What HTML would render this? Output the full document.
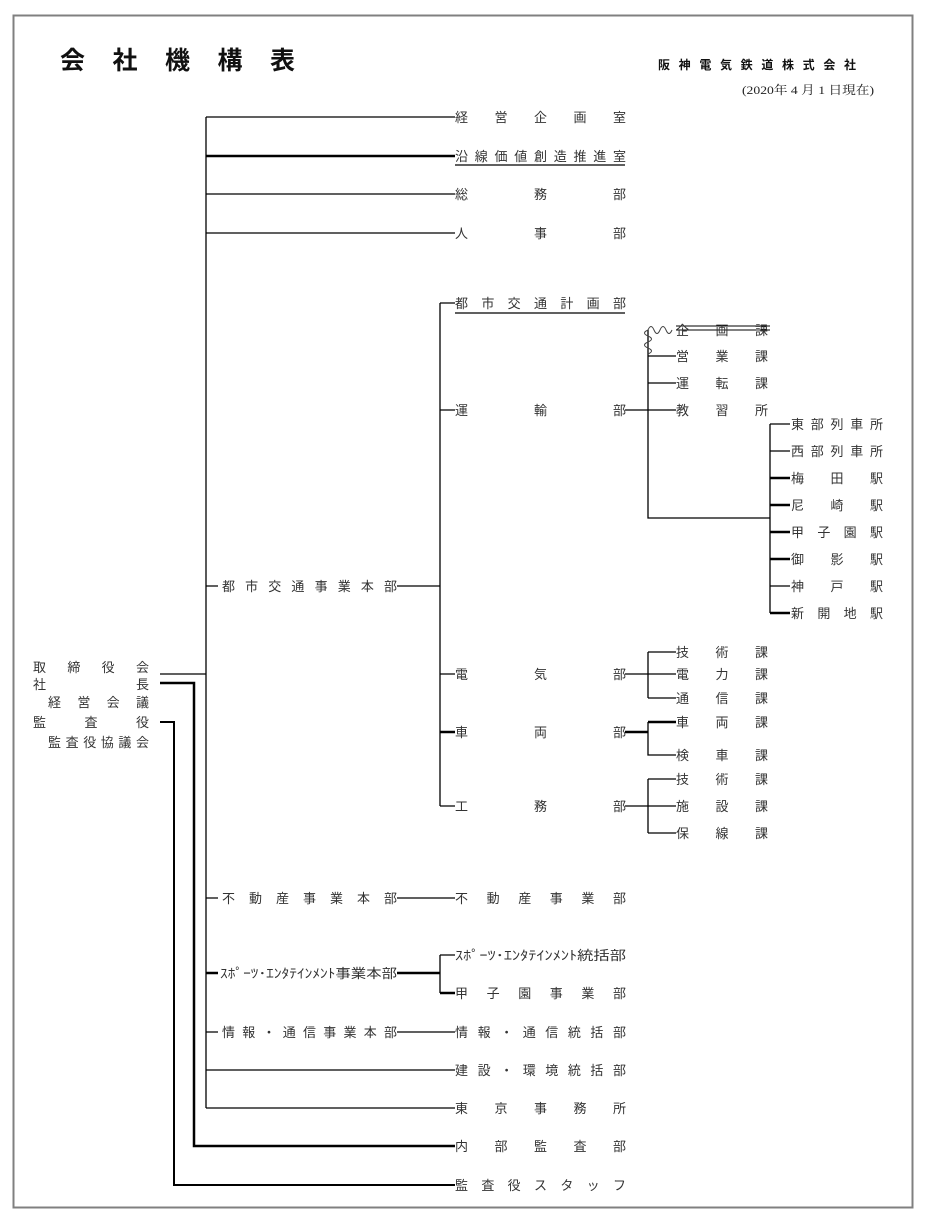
<!DOCTYPE html>
<html><head><meta charset="utf-8"><style>
html,body{margin:0;padding:0;background:#fff;}
svg{display:block;}
text{font-family:"Liberation Sans","Noto Sans CJK JP",sans-serif;fill:#333;font-size:13px;}
</style></head><body>
<svg width="928" height="1224" viewBox="0 0 928 1224" xmlns="http://www.w3.org/2000/svg">
<rect x="13.5" y="15.5" width="899" height="1192" fill="none" stroke="#808080" stroke-width="2"/>
<text x="60" y="69" textLength="235" lengthAdjust="spacing" style="font-size:25px;fill:#111;font-weight:bold">会社機構表</text>
<text x="658" y="69" textLength="198" lengthAdjust="spacing" style="font-size:12px;fill:#111;font-weight:bold">阪神電気鉄道株式会社</text>
<text x="742" y="94" textLength="132" lengthAdjust="spacingAndGlyphs" style="font-size:12px;fill:#222;font-family:'Liberation Serif','Noto Serif CJK SC',serif">(2020年 4 月 1 日現在)</text>

<g stroke="#000" stroke-width="1.3" fill="none">
<!-- main trunk -->
<path d="M206 117V1108"/>
<path d="M206 117H455M206 194H455M206 233H455M206 1070H455M206 1108H455"/>
<path d="M206 156H455" stroke-width="2.5"/>
<path d="M455 165H625M455 313H625"/>
<path d="M160 674H206"/>
<path d="M160 683H194V1146H455" stroke-width="2.5"/>
<path d="M160 722H174V1185H455" stroke-width="2"/>
<path d="M206 586H218M397 586H440M206 898H218M397 898H455M206 1032H218M397 1032H455"/>
<path d="M206 973H218M397 973H440" stroke-width="2.5"/>
<path d="M440 955V993M440 955H455"/>
<path d="M440 993H455" stroke-width="2.5"/>
<!-- 都市交通 -->
<path d="M440 303V806M440 303H455M440 410H455M440 674H455M440 806H455"/>
<path d="M440 732H455" stroke-width="2.5"/>
<!-- 運輸 -->
<path d="M625 410H676M648 330V518H770M648 356H676M648 383H676"/>
<path d="M676 326H770M676 330H770" stroke-width="1"/>
<path d="M770 424V613M770 424H790M770 451H790M770 586H790"/>
<path d="M770 478H790M770 505H790M770 532H790M770 559H790M770 613H790" stroke-width="2.5"/>
<!-- 電気 -->
<path d="M625 674H676M648 652V698M648 652H676M648 698H676"/>
<!-- 車両 -->
<path d="M625 732H648M648 722H676" stroke-width="2.5"/>
<path d="M648 722V755H676"/>
<!-- 工務 -->
<path d="M625 806H676M648 779V833M648 779H676M648 833H676"/>
</g>
<path d="M648 330q3-7 6 0t6 0 6 0 6 0M648 330q-7 3 0 6t0 6 0 6 0 6" stroke="#444" stroke-width="1" fill="none"/>

<g>
<text x="455" y="122" textLength="171" lengthAdjust="spacing">経営企画室</text>
<text x="455" y="161" textLength="171" lengthAdjust="spacing">沿線価値創造推進室</text>
<text x="455" y="199" textLength="171" lengthAdjust="spacing">総務部</text>
<text x="455" y="238" textLength="171" lengthAdjust="spacing">人事部</text>
<text x="455" y="308" textLength="171" lengthAdjust="spacing">都市交通計画部</text>
<text x="455" y="415" textLength="171" lengthAdjust="spacing">運輸部</text>
<text x="455" y="679" textLength="171" lengthAdjust="spacing">電気部</text>
<text x="455" y="737" textLength="171" lengthAdjust="spacing">車両部</text>
<text x="455" y="811" textLength="171" lengthAdjust="spacing">工務部</text>
<text x="455" y="903" textLength="171" lengthAdjust="spacing">不動産事業部</text>
<text x="455" y="960" textLength="171" lengthAdjust="spacingAndGlyphs">ｽﾎﾟｰﾂ･ｴﾝﾀﾃｲﾝﾒﾝﾄ統括部</text>
<text x="455" y="998" textLength="171" lengthAdjust="spacing">甲子園事業部</text>
<text x="455" y="1037" textLength="171" lengthAdjust="spacing">情報・通信統括部</text>
<text x="455" y="1075" textLength="171" lengthAdjust="spacing">建設・環境統括部</text>
<text x="455" y="1113" textLength="171" lengthAdjust="spacing">東京事務所</text>
<text x="455" y="1151" textLength="171" lengthAdjust="spacing">内部監査部</text>
<text x="455" y="1190" textLength="171" lengthAdjust="spacing">監査役スタッフ</text>

<text x="222" y="591" textLength="175" lengthAdjust="spacing">都市交通事業本部</text>
<text x="222" y="903" textLength="175" lengthAdjust="spacing">不動産事業本部</text>
<text x="220" y="978" textLength="177" lengthAdjust="spacingAndGlyphs">ｽﾎﾟｰﾂ･ｴﾝﾀﾃｲﾝﾒﾝﾄ事業本部</text>
<text x="222" y="1037" textLength="175" lengthAdjust="spacing">情報・通信事業本部</text>

<text x="676" y="335" textLength="92" lengthAdjust="spacing">企画課</text>
<text x="676" y="361" textLength="92" lengthAdjust="spacing">営業課</text>
<text x="676" y="388" textLength="92" lengthAdjust="spacing">運転課</text>
<text x="676" y="415" textLength="92" lengthAdjust="spacing">教習所</text>
<text x="676" y="657" textLength="92" lengthAdjust="spacing">技術課</text>
<text x="676" y="679" textLength="92" lengthAdjust="spacing">電力課</text>
<text x="676" y="703" textLength="92" lengthAdjust="spacing">通信課</text>
<text x="676" y="727" textLength="92" lengthAdjust="spacing">車両課</text>
<text x="676" y="760" textLength="92" lengthAdjust="spacing">検車課</text>
<text x="676" y="784" textLength="92" lengthAdjust="spacing">技術課</text>
<text x="676" y="811" textLength="92" lengthAdjust="spacing">施設課</text>
<text x="676" y="838" textLength="92" lengthAdjust="spacing">保線課</text>

<text x="791" y="429" textLength="92" lengthAdjust="spacing">東部列車所</text>
<text x="791" y="456" textLength="92" lengthAdjust="spacing">西部列車所</text>
<text x="791" y="483" textLength="92" lengthAdjust="spacing">梅田駅</text>
<text x="791" y="510" textLength="92" lengthAdjust="spacing">尼崎駅</text>
<text x="791" y="537" textLength="92" lengthAdjust="spacing">甲子園駅</text>
<text x="791" y="564" textLength="92" lengthAdjust="spacing">御影駅</text>
<text x="791" y="591" textLength="92" lengthAdjust="spacing">神戸駅</text>
<text x="791" y="618" textLength="92" lengthAdjust="spacing">新開地駅</text>

<text x="33" y="672" textLength="116" lengthAdjust="spacing">取締役会</text>
<text x="33" y="689" textLength="116" lengthAdjust="spacing">社長</text>
<text x="48" y="707" textLength="101" lengthAdjust="spacing">経営会議</text>
<text x="33" y="727" textLength="116" lengthAdjust="spacing">監査役</text>
<text x="48" y="747" textLength="101" lengthAdjust="spacing">監査役協議会</text>
</g>
</svg>
</body></html>
